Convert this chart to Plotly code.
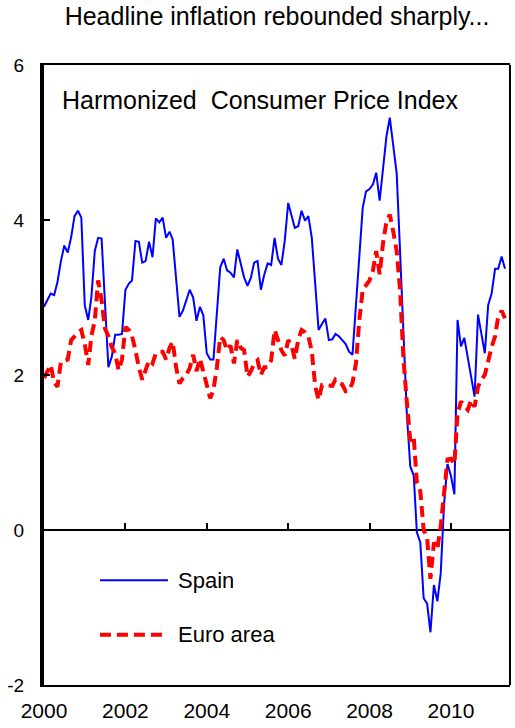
import pandas as pd
import plotly.graph_objects as go

# Harmonized CPI, 12-month % change, monthly from January 2000
spain = [
    2.88, 2.96, 3.05, 3.03, 3.20, 3.47, 3.67, 3.58, 3.78, 4.05, 4.12, 4.03,   # 2000
    2.90, 2.71, 3.00, 3.60, 3.77, 3.76, 3.00, 2.10, 2.24, 2.52, 2.52, 2.53,   # 2001
    3.10, 3.18, 3.22, 3.73, 3.72, 3.45, 3.47, 3.72, 3.52, 4.02, 3.97, 4.03,   # 2002
    3.77, 3.85, 3.75, 3.20, 2.75, 2.83, 2.95, 3.10, 3.00, 2.70, 2.88, 2.77,   # 2003
    2.28, 2.20, 2.20, 2.80, 3.39, 3.50, 3.35, 3.32, 3.26, 3.62, 3.45, 3.26,   # 2004
    3.15, 3.26, 3.45, 3.47, 3.10, 3.30, 3.44, 3.42, 3.77, 3.50, 3.42, 3.73,   # 2005
    4.22, 4.05, 3.90, 3.92, 4.12, 3.99, 4.05, 3.77, 3.10, 2.58, 2.66, 2.73,   # 2006
    2.45, 2.46, 2.53, 2.50, 2.45, 2.40, 2.30, 2.26, 2.90, 3.55, 4.16, 4.37,   # 2007
    4.40, 4.46, 4.61, 4.25, 4.69, 5.08, 5.32, 4.95, 4.60, 3.60, 2.40, 1.50,   # 2008
    0.82, 0.70, -0.03, -0.16, -0.88, -0.95, -1.32, -0.71, -0.92, -0.56, 0.35, 0.85,  # 2009
    0.70, 0.46, 2.71, 2.37, 2.48, 2.23, 1.97, 1.72, 2.78, 2.53, 2.28, 2.90,   # 2010
    3.05, 3.37, 3.37, 3.53, 3.37,                                             # 2011
]

euro_area = [
    1.96, 2.05, 2.13, 1.90, 1.85, 2.17, 2.18, 2.20, 2.45, 2.50, 2.55, 2.58,   # 2000
    2.40, 2.13, 2.50, 2.70, 3.22, 2.96, 2.60, 2.50, 2.36, 2.28, 2.06, 2.20,   # 2001
    2.62, 2.58, 2.50, 2.32, 2.10, 1.94, 2.05, 2.19, 2.15, 2.28, 2.30, 2.30,   # 2002
    2.20, 2.35, 2.43, 2.10, 1.89, 1.96, 2.00, 2.09, 2.26, 2.05, 2.21, 2.05,   # 2003
    1.88, 1.70, 1.81, 2.10, 2.49, 2.45, 2.32, 2.38, 2.15, 2.45, 2.35, 2.32,   # 2004
    1.98, 2.05, 2.15, 2.19, 2.00, 2.10, 2.10, 2.19, 2.58, 2.45, 2.32, 2.25,   # 2005
    2.45, 2.38, 2.21, 2.45, 2.58, 2.55, 2.50, 2.30, 1.85, 1.68, 1.87, 1.87,   # 2006
    1.87, 1.86, 1.94, 1.90, 1.88, 1.79, 1.80, 1.90, 2.15, 2.70, 3.10, 3.15,   # 2007
    3.22, 3.35, 3.60, 3.30, 3.70, 3.98, 4.07, 3.85, 3.60, 3.10, 2.20, 1.65,   # 2008
    1.15, 1.20, 0.61, 0.50, 0.00, -0.10, -0.63, -0.16, -0.24, 0.05, 0.50, 0.91,  # 2009
    0.92, 0.85, 1.50, 1.66, 1.60, 1.55, 1.68, 1.59, 1.85, 1.94, 2.00, 2.20,   # 2010
    2.36, 2.50, 2.75, 2.83, 2.73,                                             # 2011
]

months = pd.date_range("2000-01-01", periods=len(spain), freq="MS")

year_ticks = ["2000-01-01", "2002-01-01", "2004-01-01",
              "2006-01-01", "2008-01-01", "2010-01-01"]
year_labels = ["2000", "2002", "2004", "2006", "2008", "2010"]
y_ticks = [-2, 0, 2, 4, 6]
y_labels = ["-2", "0", "2", "4", "6"]

FONT = "Liberation Sans, Arial, sans-serif"
X_RANGE = ["2000-01-01", "2011-06-15"]
BLUE = "#0000FF"
RED = "#FF0000"
EURO_DASH = "11px,6px"

fig = go.Figure()
fig.add_trace(go.Scatter(x=months, y=spain, mode="lines", name="Spain",
                         line=dict(color=BLUE, width=2)))
fig.add_trace(go.Scatter(x=months, y=euro_area, mode="lines", name="Euro area",
                         line=dict(color=RED, width=4, dash=EURO_DASH)))
# invisible anchor so the zero-line year marks axis is rendered
fig.add_trace(go.Scatter(x=year_ticks, y=[0] * len(year_ticks), xaxis="x2",
                         mode="markers", marker=dict(opacity=0),
                         hoverinfo="skip", showlegend=False))

fig.update_layout(
    width=515, height=728,
    margin=dict(l=44, r=5, t=65, b=43),
    paper_bgcolor="white", plot_bgcolor="white",
    showlegend=False,
    font=dict(family=FONT, color="black"),
    title=dict(text="Headline inflation rebounded sharply...",
               xref="container", yref="container",
               x=0.538, xanchor="center", y=0.977, yanchor="middle",
               font=dict(size=25, color="black")),
    xaxis=dict(type="date", range=X_RANGE, tickvals=year_ticks, ticktext=year_labels,
               ticks="", showgrid=False, zeroline=False,
               showline=True, linecolor="black", linewidth=2, mirror=True,
               tickfont=dict(size=21), ticklabelstandoff=6),
    # year marks sitting on the zero line
    xaxis2=dict(type="date", range=X_RANGE, overlaying="x", anchor="free",
                position=0.25, side="bottom", tickvals=year_ticks,
                ticks="inside", ticklen=7, tickwidth=2, tickcolor="black",
                showticklabels=False, showgrid=False, showline=False, zeroline=False),
    yaxis=dict(range=[-2, 6], tickvals=y_ticks, ticktext=y_labels,
               ticks="inside", ticklen=6,
               tickwidth=2, tickcolor="black", showgrid=False,
               showline=True, linewidth=4, linecolor="black",
               zeroline=True, zerolinecolor="black", zerolinewidth=2,
               tickfont=dict(size=19), ticklabelstandoff=12),
)

# right-hand frame edge
fig.add_shape(type="line", xref="paper", yref="paper", x0=1, x1=1, y0=0, y1=1,
              line=dict(color="black", width=2))

# panel heading
fig.add_annotation(text="Harmonized  Consumer Price Index", xref="paper", yref="paper",
                   x=0.034, y=0.944, xanchor="left", yanchor="middle",
                   showarrow=False, font=dict(size=25, color="black"))

# legend keys
legend_items = [("Spain", BLUE, 2, "solid", 0.169),
                ("Euro area", RED, 4, EURO_DASH, 0.081)]
for label, color, width, dash, ypos in legend_items:
    fig.add_shape(type="line", xref="paper", yref="paper",
                  x0=0.120, x1=0.266, y0=ypos, y1=ypos,
                  line=dict(color=color, width=width, dash=dash))
    fig.add_annotation(text=label, xref="paper", yref="paper",
                       x=0.283, y=ypos, xanchor="left", yanchor="middle",
                       showarrow=False, font=dict(size=22, color="black"))

fig.write_html("out.html")
